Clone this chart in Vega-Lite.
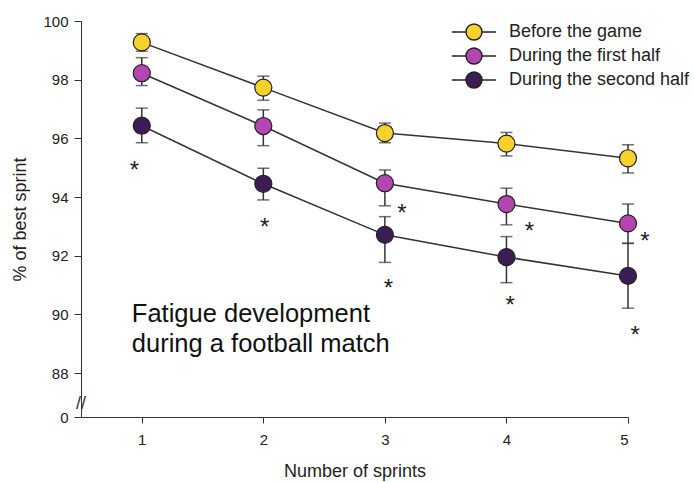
{
  "$schema": "https://vega.github.io/schema/vega-lite/v6.json",
  "autosize": {"type": "none"},
  "padding": {"left": 81, "top": 21, "right": 66, "bottom": 65},
  "width": 547,
  "height": 396,
  "background": "white",
  "config": {
    "view": {"stroke": null},
    "font": "Liberation Sans",
    "axis": {"grid": false, "domainColor": "#333", "tickColor": "#333", "labelColor": "#222", "titleColor": "#222", "titleFontWeight": "normal", "labelFont": "Liberation Sans", "titleFont": "Liberation Sans"}
  },
  "datasets": {
    "series": [
      {"x": 1, "group": "Before the game", "mean": 99.27, "lo": 98.97, "hi": 99.57},
      {"x": 2, "group": "Before the game", "mean": 97.73, "lo": 97.3, "hi": 98.12},
      {"x": 3, "group": "Before the game", "mean": 96.18, "lo": 95.85, "hi": 96.52},
      {"x": 4, "group": "Before the game", "mean": 95.82, "lo": 95.4, "hi": 96.2},
      {"x": 5, "group": "Before the game", "mean": 95.32, "lo": 94.82, "hi": 95.78},
      {"x": 1, "group": "During the first half", "mean": 98.22, "lo": 97.8, "hi": 98.75},
      {"x": 2, "group": "During the first half", "mean": 96.42, "lo": 95.75, "hi": 96.97},
      {"x": 3, "group": "During the first half", "mean": 94.47, "lo": 93.7, "hi": 94.92},
      {"x": 4, "group": "During the first half", "mean": 93.76, "lo": 93.05, "hi": 94.3},
      {"x": 5, "group": "During the first half", "mean": 93.1, "lo": 92.42, "hi": 93.76},
      {"x": 1, "group": "During the second half", "mean": 96.43, "lo": 95.85, "hi": 97.03},
      {"x": 2, "group": "During the second half", "mean": 94.45, "lo": 93.9, "hi": 94.98},
      {"x": 3, "group": "During the second half", "mean": 92.71, "lo": 91.77, "hi": 93.33},
      {"x": 4, "group": "During the second half", "mean": 91.95, "lo": 91.08, "hi": 92.65},
      {"x": 5, "group": "During the second half", "mean": 91.31, "lo": 90.21, "hi": 92.42}
    ],
    "stars": [
      {"x": 0.94, "y": 95.12, "label": "*"},
      {"x": 2.01, "y": 93.19, "label": "*"},
      {"x": 3.14, "y": 93.65, "label": "*"},
      {"x": 3.03, "y": 91.09, "label": "*"},
      {"x": 4.19, "y": 93.05, "label": "*"},
      {"x": 4.03, "y": 90.52, "label": "*"},
      {"x": 5.14, "y": 92.7, "label": "*"},
      {"x": 5.06, "y": 89.5, "label": "*"}
    ],
    "note": [
      {"x": 0.918, "y": 89.74, "label": "Fatigue development\nduring a football match"}
    ],
    "brk": [
      {"x": 0.5, "y": 86.93, "label": "//"}
    ]
  },
  "encoding": {
    "x": {
      "field": "x", "type": "quantitative",
      "scale": {"domain": [0.5, 5], "nice": false, "zero": false},
      "axis": {"values": [1, 2, 3, 4, 5], "title": "Number of sprints", "tickSize": 6, "labelPadding": 9, "labelFontSize": 15, "titleFontSize": 18, "titlePadding": 15}
    }
  },
  "layer": [
    {
      "data": {"name": "series"},
      "mark": {"type": "errorbar", "ticks": {"size": 12, "color": "#333"}, "color": "#333", "thickness": 1.5},
      "encoding": {
        "y": {"field": "lo", "type": "quantitative",
          "scale": {"domain": [86.5, 100], "nice": false, "zero": false},
          "axis": {"values": [86.5, 88, 90, 92, 94, 96, 98, 100], "labelExpr": "datum.value < 87 ? '0' : datum.label", "title": "% of best sprint", "tickSize": 7, "labelPadding": 6, "labelFontSize": 15, "titleFontSize": 18, "titlePadding": 13}},
        "y2": {"field": "hi"}
      }
    },
    {
      "data": {"name": "series"},
      "mark": {"type": "line", "color": "#333", "strokeWidth": 1.5},
      "encoding": {
        "y": {"field": "mean", "type": "quantitative"},
        "detail": {"field": "group"}
      }
    },
    {
      "data": {"name": "series"},
      "mark": {"type": "point", "filled": true, "size": 290, "stroke": "#222", "strokeWidth": 1.2, "opacity": 1},
      "encoding": {
        "y": {"field": "mean", "type": "quantitative"},
        "fill": {
          "field": "group", "type": "nominal",
          "scale": {"domain": ["Before the game", "During the first half", "During the second half"], "range": ["#F5D22C", "#B445B1", "#3B1D54"]},
          "legend": {
            "orient": "none", "legendX": 382, "legendY": 0, "title": null, "padding": 0,
            "symbolType": "M-2.2,0H-0.8M0.8,0H2.2M-0.8,0A0.8,0.8 0 1,1 0.8,0A0.8,0.8 0 1,1 -0.8,0Z",
            "symbolSize": 400, "symbolStrokeColor": "#222", "symbolStrokeWidth": 1.4, "symbolOpacity": 1,
            "labelFontSize": 18, "labelFont": "Liberation Sans", "labelColor": "#222", "rowPadding": 2, "labelOffset": 24, "labelLimit": 300
          }
        }
      }
    },
    {
      "data": {"name": "stars"},
      "mark": {"type": "text", "fontSize": 24, "color": "#222", "baseline": "alphabetic", "align": "center", "dy": 14},
      "encoding": {
        "y": {"field": "y", "type": "quantitative"},
        "text": {"field": "label"}
      }
    },
    {
      "data": {"name": "note"},
      "mark": {"type": "text", "fontSize": 25.5, "color": "#111", "baseline": "alphabetic", "align": "left", "lineBreak": "\n", "lineHeight": 30},
      "encoding": {
        "y": {"field": "y", "type": "quantitative"},
        "text": {"field": "label"}
      }
    },
    {
      "data": {"name": "brk"},
      "mark": {"type": "text", "fontSize": 18, "color": "#333", "baseline": "middle", "align": "center"},
      "encoding": {
        "y": {"field": "y", "type": "quantitative"},
        "text": {"field": "label"}
      }
    }
  ]
}
